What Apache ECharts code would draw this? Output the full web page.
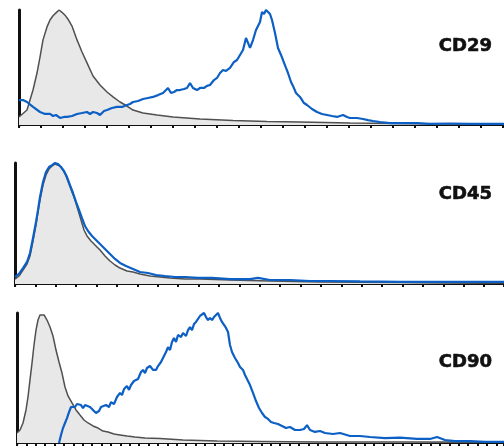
<!DOCTYPE html>
<html>
<head>
<meta charset="utf-8">
<script src="https://cdn.jsdelivr.net/npm/echarts@6/dist/echarts.min.js"></script>
<style>html,body{margin:0;padding:0;background:#fff}#c{width:504px;height:448px}</style>
</head>
<body>
<div id="c"></div>
<script>
// Panel labels
const markers = ['CD29', 'CD45', 'CD90'];
// [channel, % of max] pairs, isotype control (grey) and stained (blue)
const cd29Isotype = [[0,7],[1,7],[8,13],[14,30.4],[18,45.2],[21,59.1],[24,74],[28,85.3],[31,91.3],[34,95],[37,97.5],[40,100],[43,98],[46,95.5],[49,92],[53,86],[58,74],[63,63.5],[68,54],[74,42.6],[81,34.8],[88,28.7],[94,24.4],[101,20],[108,16.5],[114,13],[124,10.4],[138,8.7],[154,7],[181,5.2],[214,3.9],[248,3],[281,2.6],[331,1.7],[381,1.3],[431,0.9],[485,0.9]];
const cd29Stained = [[0,21.7],[4,21.7],[8,20],[14,15.7],[21,11.3],[26,9.6],[31,9.6],[34,7.8],[37,8.7],[41,6.1],[45,7],[48,7],[53,7.8],[58,9.6],[63,10.4],[68,11.3],[71,9.6],[74,11.3],[78,10.4],[81,8.7],[85,12.2],[88,13],[93,14.8],[98,15.7],[103,15.7],[108,17.4],[111,18.3],[114,20],[119,20.9],[124,22.6],[129,23.5],[134,24.4],[139,26],[144,27.8],[147,30.4],[149,32.2],[152,27.8],[155,28.7],[158,30.4],[161,30.4],[165,31.3],[168,32.2],[171,36.5],[174,32.2],[178,30.4],[181,32.2],[185,32.2],[188,34],[191,34.8],[195,39.1],[198,40.9],[201,45.2],[204,47.8],[207,47],[211,49.6],[215,54.8],[218,56.5],[221,60.9],[224,65.2],[227,75.7],[229,76.5],[231,67],[234,73.9],[237,82.6],[239,84.3],[241,89.6],[243,98.3],[245,96.5],[247,100],[249,100],[251,96.5],[253,91.3],[256,80],[259,67],[262,60.9],[264,56.5],[267,49.6],[269,45.2],[272,37.4],[274,34],[277,27.8],[281,24.4],[285,19.1],[288,17.4],[293,13.9],[298,11.3],[303,9.6],[308,8.7],[313,7.8],[318,7],[324,8.7],[328,7],[331,6.1],[338,6.1],[344,5.2],[349,4.3],[354,3.5],[361,2.6],[371,1.7],[381,1.7],[398,1.7],[411,0.9],[431,1.3],[451,0.9],[485,0.9]];
const cd45Isotype = [[0,4.1],[4,6.6],[8,11.6],[12,16.5],[15,23.1],[18,35.5],[21,48.8],[23,59.5],[25,69.4],[28,81.8],[31,90.1],[34,95],[37,97.5],[40,99.2],[42,100],[45,97.5],[48,94.2],[51,89.3],[54,82.6],[57,76],[60,69.4],[63,61.2],[66,52.9],[69,44.6],[72,39.7],[76,35.5],[80,32.2],[85,28.1],[90,23.1],[95,19],[100,15.7],[105,13.2],[112,10.7],[118,9.9],[125,8.3],[135,6.6],[145,5.8],[155,5],[170,4.1],[185,4.1],[215,3.3],[255,2.5],[305,1.7],[385,1.2],[489,0.8]];
const cd45Stained = [[0,5.8],[4,8.3],[8,13.2],[12,18.2],[15,25.6],[18,38],[21,51.2],[23,61.2],[25,71.9],[28,84.3],[31,92.6],[34,96.7],[37,98.3],[40,100],[43,99.2],[46,96.7],[49,93.4],[52,88.4],[55,81.8],[58,75.2],[61,67.8],[64,61.2],[67,54.5],[70,47.9],[73,43.8],[77,39.7],[81,36.4],[85,33],[90,28.9],[95,24.8],[100,20.7],[105,17.4],[111,14.9],[118,12.4],[125,9.9],[133,9.1],[141,7.4],[150,6.6],[160,5.8],[170,5.8],[183,5],[197,5],[215,4.1],[235,4.1],[243,5],[255,3.3],[275,3.3],[295,2.5],[315,2.5],[345,2.1],[385,1.7],[435,1.7],[489,1.7]];
const cd90Isotype = [[0,7.7],[3,10],[6,15.4],[9,25.4],[11,35.4],[13,48.5],[15,61.5],[17,75.4],[19,86.9],[21,94.6],[23,98.5],[25,100],[27,98.5],[30,94.6],[33,89.2],[36,82.3],[39,71.5],[42,62.3],[45,53.8],[48,43.1],[51,36.2],[55,30.8],[59,25.4],[63,21.5],[67,17.7],[71,15.4],[76,13.1],[81,11.5],[86,9.2],[91,8.5],[97,6.9],[103,6.2],[110,5.4],[118,4.6],[128,3.8],[143,3.5],[166,2.3],[200,1.5],[243,1.2],[303,0.8],[383,0.8],[487,0.8]];
const cd90Stained = [[42,0],[44,6.2],[46,11.5],[48,15.4],[50,19.2],[52,23.8],[54,27.7],[56,29.2],[58,27.7],[60,30],[62,28.5],[64,29.2],[66,26.9],[68,29.2],[70,27.7],[73,27.7],[76,25.4],[79,23.1],[82,24.6],[84,27.7],[86,26.2],[89,29.2],[92,27.7],[94,31.5],[97,30],[100,35.4],[103,38.5],[105,36.9],[107,41.5],[110,43.8],[112,40.8],[114,44.6],[117,47.7],[119,46.2],[121,49.2],[124,54.6],[126,56.2],[128,53.8],[130,57.7],[133,59.2],[136,56.2],[139,56.2],[141,59.2],[144,62.3],[146,65.4],[149,70],[151,73.8],[153,71.5],[155,77.7],[157,80.8],[159,77.7],[161,83.1],[164,81.5],[166,84.6],[169,82.3],[171,86.9],[173,89.2],[175,86.9],[177,91.5],[179,93.1],[181,94.6],[183,97.7],[185,96.2],[187,100],[189,96.9],[191,94.6],[193,96.2],[195,94.6],[197,96.9],[199,95.4],[201,100],[203,96.2],[205,93.1],[207,90.8],[209,88.5],[211,85.4],[213,75.4],[215,70],[218,65.4],[221,61.5],[223,58.5],[226,56.2],[228,52.3],[230,50.8],[233,44.6],[236,38.5],[239,32.3],[242,26.9],[245,23.1],[248,20],[251,18.5],[254,16.2],[257,15.4],[261,14.6],[265,13.1],[269,11.5],[273,12.3],[278,10],[283,10],[287,10.8],[290,13.8],[293,10],[298,8.5],[303,9.2],[308,7.7],[316,6.9],[323,7.7],[333,5.4],[343,5.4],[353,4.6],[368,3.8],[383,4.2],[400,3.1],[413,3.1],[420,4.6],[428,2.3],[438,1.5],[453,1.5],[468,0.8],[487,0.8]];
const isotypes = [cd29Isotype, cd45Isotype, cd90Isotype];
const stained = [cd29Stained, cd45Stained, cd90Stained];
const channelMax = [485, 489, 487];
const tickStep = [22, 20.4, 9.4];

const layout = [
  {left: 19, top: 10, height: 115, labelY: 46},
  {left: 15, top: 163, height: 121, labelY: 194},
  {left: 17, top: 313, height: 130, labelY: 362}
];

const grid = [], xAxis = [], yAxis = [], series = [], graphic = [];
layout.forEach((p, i) => {
  grid.push({left: p.left, top: p.top, height: p.height, right: 0});
  xAxis.push({
    type: 'value', gridIndex: i, min: 0, max: channelMax[i], interval: tickStep[i],
    axisLine: {show: true, lineStyle: {color: '#111', width: 2}},
    axisTick: {show: true, length: 3, lineStyle: {color: '#111', width: 2}},
    axisLabel: {show: false}, splitLine: {show: false}
  });
  yAxis.push({
    type: 'value', gridIndex: i, min: 0, max: 100,
    axisLine: {show: true, lineStyle: {color: '#111', width: 3}},
    axisTick: {show: false}, axisLabel: {show: false}, splitLine: {show: false}
  });
  series.push({
    type: 'line', xAxisIndex: i, yAxisIndex: i, data: isotypes[i], showSymbol: false,
    lineStyle: {color: '#505050', width: 1.5}, areaStyle: {color: '#e8e8e8', opacity: 1},
    z: 2, animation: false
  });
  series.push({
    type: 'line', xAxisIndex: i, yAxisIndex: i, data: stained[i], showSymbol: false,
    lineStyle: {color: '#0c5fc4', width: 2.2}, z: 3, animation: false
  });
  graphic.push({
    type: 'text', x: 492, y: p.labelY, z: 10,
    style: {text: markers[i], align: 'right', verticalAlign: 'middle',
      font: 'bold 18px "DejaVu Sans"', fill: '#111', stroke: '#111', lineWidth: 0.6}
  });
});

const chart = echarts.init(document.getElementById('c'), null, {renderer: 'canvas'});
chart.setOption({animation: false, grid, xAxis, yAxis, series, graphic});
</script>
</body>
</html>
